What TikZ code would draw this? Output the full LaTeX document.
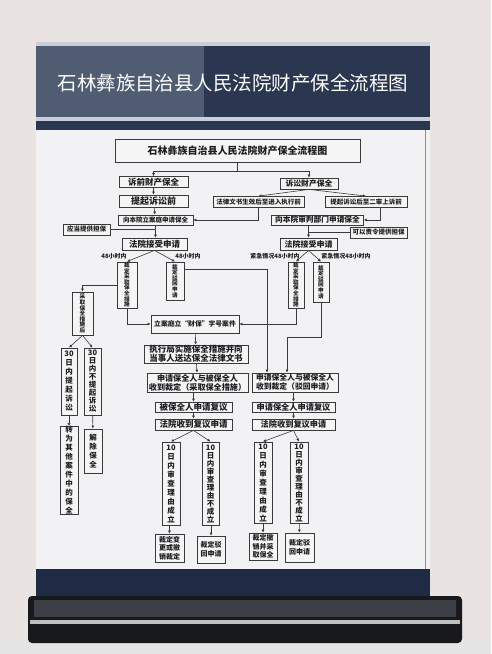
\documentclass[tikz,border=0pt]{standalone}
\usepackage{fontspec}
\usepackage{xcolor}
\usetikzlibrary{positioning, arrows.meta}

\newfontfamily\cjk{Noto Sans CJK SC}

\definecolor{wall}{HTML}{E9E3E1}
\definecolor{navy}{HTML}{2B3651}
\definecolor{navylight}{HTML}{4F5C72}
\definecolor{stripe}{HTML}{C9CED8}
\definecolor{paper}{HTML}{F2F2F4}
\definecolor{boxfill}{HTML}{F5F5F6}
\definecolor{linec}{HTML}{3A3A3C}
\definecolor{ink}{HTML}{1E1E20}
\definecolor{standnavy}{HTML}{1F2A44}
\definecolor{standdark}{HTML}{17191D}
\definecolor{standgrey}{HTML}{3C3F45}

\begin{document}
\begin{tikzpicture}[
x=1pt, y=-1pt,
box/.style={draw=linec, line width=0.8pt, fill=boxfill, inner sep=0pt, align=center, text=ink, font=\cjk\bfseries\fontsize{7}{8}\selectfont},
vbox/.style={box, font=\cjk\bfseries\fontsize{7.5}{9}\selectfont},
tbox/.style={box, font=\cjk\bfseries\fontsize{5.6}{5.6}\selectfont},
wh/.style 2 args={minimum width=#1pt, minimum height=#2pt},
fs/.style 2 args={font=\cjk\bfseries\fontsize{#1}{#2}\selectfont},
arrow/.style={-{Latex[length=3pt, width=3pt]}, line width=0.6pt, draw=linec},
link/.style={line width=0.6pt, draw=linec},
note/.style={font=\cjk\bfseries\fontsize{6}{6}\selectfont, text=ink, inner sep=0pt}
]
\useasboundingbox (0,0) rectangle (491,654);

% wall, sign and stand
\fill[wall] (0,0) rectangle (491,654);
\fill[black!10] (0,642) rectangle (491,654);
\fill[stripe] (36,42) rectangle (430,46);
\fill[navy] (36,46) rectangle (430,117);
\fill[navylight] (36,46) rectangle (204,117);
\fill[stripe] (36,117) rectangle (430,121);
\fill[navy] (36,121) rectangle (430,130);
\fill[paper] (36,130) rectangle (430,569);
\draw[black!45, line width=0.8pt] (425,130) -- (425,569);
\fill[standnavy] (36,569) rectangle (430,598);
\fill[standdark, rounded corners=4pt] (28,596) rectangle (462,643);
\fill[standgrey] (34,600) rectangle (456,617);
\fill[black!25] (30,620) rectangle (460,624);

\node[text=white, font=\cjk\fontsize{19.5}{20}\selectfont] (head) at (233,83) {石林彝族自治县人民法院财产保全流程图};

% top of the chart
\node[box, wh={245}{23}, fs={10}{11}] (title) at (237.5,150.5) {石林彝族自治县人民法院财产保全流程图};
\coordinate (split) at (237.5,171);

\node[box, wh={69}{11}, fs={8.5}{9}] (pre) at (153.5,182) {诉前财产保全};
\node[box, wh={58}{11}, fs={7.8}{8}] (lit) at (309,183.5) {诉讼财产保全};
\node[box, wh={69}{12}, fs={9}{9}] (tiqian) at (153.5,201) {提起诉讼前};
\node[box, wh={91}{11}, fs={6.5}{7}] (wenshu) at (258.5,202) {法律文书生效后至进入执行前};
\node[box, wh={82}{11}, fs={6.5}{7}] (ershen) at (366,202) {提起诉讼后至二审上诉前};
\node[box, wh={75}{10}, fs={6.5}{7}] (lian) at (155.5,220) {向本院立案庭申请保全};
\node[box, wh={92}{10}, fs={7.7}{8}] (shenpan) at (317.5,220) {向本院审判部门申请保全};
\node[box, wh={47}{11}, fs={6.5}{7}] (yingdang) at (86.5,229.5) {应当提供担保};
\node[box, wh={57}{11}, fs={6.5}{7}] (kezeling) at (378.5,232.5) {可以责令提供担保};

\node[box, wh={65}{12}, fs={8.5}{9}] (courtL) at (154.5,244) {法院接受申请};
\node[box, wh={57}{12}, fs={8}{9}] (courtR) at (308.5,244) {法院接受申请};

% rulings within 48 hours
\node[tbox, wh={20}{46}] (takeL) at (127,285) {裁\\定\\采\\取\\保\\全\\措\\施};
\node[tbox, wh={18}{38}] (rejectL) at (175,281) {裁\\定\\驳\\回\\申\\请};
\node[tbox, wh={16}{46}] (takeR) at (296,285) {裁\\定\\采\\取\\保\\全\\措\\施};
\node[tbox, wh={16}{40}] (rejectR) at (321,282) {裁\\定\\驳\\回\\申\\请};
\node[note] (hourA) at (114,256) {48小时内};
\node[note] (hourB) at (188,256) {48小时内};
\node[note] (hourC) at (275,256) {紧急情况48小时内};
\node[note] (hourD) at (346,256) {紧急情况48小时内};

% left column
\node[tbox, wh={21}{43}] (afterL) at (82.5,313.5) {采\\取\\保\\全\\措\\施\\后};
\node[vbox, wh={16}{67}] (sue30) at (69,381.5) {30\\日\\内\\提\\起\\诉\\讼};
\node[vbox, wh={17}{67}, fs={7.5}{8}] (nosue30) at (92.5,381.5) {30\\日\\内\\不\\提\\起\\诉\\讼};
\node[vbox, wh={18}{85}] (transfer) at (69,470.5) {转\\为\\其\\他\\案\\件\\中\\的\\保\\全};
\node[vbox, wh={18}{44}] (release) at (93,451) {解\\除\\保\\全};

% middle column
\node[box, wh={88}{18}, fs={6.8}{7}] (caibao) at (195,324) {立案庭立“财保”字号案件};
\node[box, wh={104}{18}, fs={8.5}{9}] (execute) at (196,354) {执行局实施保全措施并向\\当事人送达保全法律文书};
\node[box, wh={101}{19}, fs={8.1}{9}] (notifyL) at (197.5,382.5) {申请保全人与被保全人\\收到裁定（采取保全措施）};
\node[box, wh={77}{10}, fs={8.5}{9}] (reviewL) at (193.5,407) {被保全人申请复议};
\node[box, wh={77}{11}, fs={8.5}{9}] (receiveL) at (193.5,424.5) {法院收到复议申请};

% right column
\node[box, wh={86}{19}, fs={7.8}{9}] (notifyR) at (295,382.5) {申请保全人与被保全人\\收到裁定（驳回申请）};
\node[box, wh={83}{10}, fs={8.2}{9}] (reviewR) at (293.5,407) {申请保全人申请复议};
\node[box, wh={83}{11}, fs={8.2}{9}] (receiveR) at (293.5,424.5) {法院收到复议申请};

% ten day review
\node[vbox, wh={18}{83}] (validL) at (171,483.5) {10\\日\\内\\审\\查\\理\\由\\成\\立};
\node[vbox, wh={17}{83}, fs={7.5}{8}] (invalidL) at (210.5,483.5) {10\\日\\内\\审\\查\\理\\由\\不\\成\\立};
\node[vbox, wh={18}{81}] (validR) at (263,482.5) {10\\日\\内\\审\\查\\理\\由\\成\\立};
\node[vbox, wh={18}{81}, fs={7.5}{8}] (invalidR) at (299,482.5) {10\\日\\内\\审\\查\\理\\由\\不\\成\\立};

\node[box, wh={29}{28}, fs={7}{8.5}] (endL1) at (169.5,548) {裁定变\\更或撤\\销裁定};
\node[box, wh={28}{27}, fs={7}{9}] (endL2) at (211,549.5) {裁定驳\\回申请};
\node[box, wh={28}{27}, fs={7}{8.5}] (endR1) at (263,546.5) {裁定撤\\销并采\\取保全};
\node[box, wh={29}{29}, fs={7}{9}] (endR2) at (299.5,547.5) {裁定驳\\回申请};

% connectors
\draw[link] (title) -- (split);
\draw[arrow] (split) -| (pre);
\draw[arrow] (split) -| (lit);
\draw[arrow] (pre) -- (tiqian);
\draw[arrow] (tiqian) -- (lian);
\draw[arrow] (lit.south) -- (wenshu.north);
\draw[arrow] (lit.south) -- (ershen.north);
\draw[arrow] (wenshu.south) |- (lian.east);
\draw[arrow] ([xshift=14pt]ershen.south) |- (shenpan.east);

\draw[arrow] (lian.south) -- (lian.south |- courtL.north);
\draw[link] (yingdang.east) -- (yingdang.east -| lian.south);
\draw[arrow] (shenpan.south -| courtR) -- (courtR.north);
\draw[link] (kezeling.west) -- (kezeling.west -| courtR.north);

\draw[arrow] (courtL.south) -- (takeL.north);
\draw[arrow] (courtL.south) -- (rejectL.north);
\draw[arrow] (courtR.south) -- (takeR.north);
\draw[arrow] (courtR.south) -- (rejectR.north);

\draw[arrow] (takeL.west) -| (afterL.north);
\draw[arrow] (afterL.south) -- (sue30.north);
\draw[arrow] (afterL.south) -- (nosue30.north);
\draw[arrow] (sue30) -- (transfer);
\draw[arrow] (nosue30) -- (release);

\draw[arrow] (takeL.south) |- (caibao.west);
\draw[arrow] (takeR.south) |- (caibao.east);
\draw[arrow] ([yshift=12pt]rejectL.east) -| ([xshift=-28pt]notifyR.north);
\draw[arrow] (rejectR.south) -- ++(0,35) -| ([xshift=-8pt]notifyR.north);

\draw[arrow] (caibao) -- (execute);
\draw[arrow] (execute) -- (notifyL);
\draw[arrow] (notifyL.south -| reviewL) -- (reviewL);
\draw[arrow] (reviewL) -- (receiveL);
\draw[arrow] (notifyR.south -| reviewR) -- (reviewR);
\draw[arrow] (reviewR) -- (receiveR);

\draw[arrow] (receiveL.south) -- (validL.north);
\draw[arrow] (receiveL.south) -- (invalidL.north);
\draw[arrow] (receiveR.south) -- (validR.north);
\draw[arrow] (receiveR.south) -- (invalidR.north);

\draw[arrow] (validL.south -| endL1) -- (endL1);
\draw[arrow] (invalidL.south -| endL2) -- (endL2);
\draw[arrow] (validR) -- (endR1);
\draw[arrow] (invalidR) -- (endR2);

\end{tikzpicture}
\end{document}
